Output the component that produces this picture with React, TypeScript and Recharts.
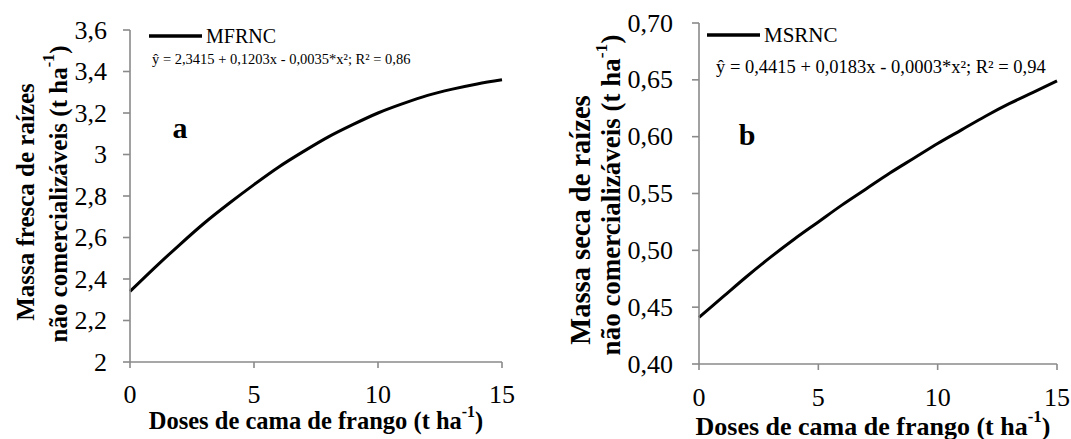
import React from "react";
import { LineChart, Line, XAxis, YAxis } from "recharts";

const doses = [0, 1, 2, 3, 4, 5, 6, 7, 8, 9, 10, 11, 12, 13, 14, 15];
const mfrnc = [2.34, 2.455, 2.565, 2.67, 2.765, 2.855, 2.94, 3.015, 3.085, 3.145, 3.2, 3.245, 3.285, 3.315, 3.34, 3.36];
const msrnc = [0.441, 0.459, 0.477, 0.494, 0.51, 0.525, 0.54, 0.554, 0.568, 0.581, 0.594, 0.606, 0.618, 0.629, 0.639, 0.649];
const xTicks = [0, 5, 10, 15];
const leftTicks = [2, 2.2, 2.4, 2.6, 2.8, 3, 3.2, 3.4, 3.6];
const rightTicks = [0.4, 0.45, 0.5, 0.55, 0.6, 0.65, 0.7];

const leftData = doses.map((d, i) => ({ dose: d, v: mfrnc[i] }));
const rightData = doses.map((d, i) => ({ dose: d, v: msrnc[i] }));

const FONT = "Liberation Serif";
const AXIS = "#8a8a8a";

const fmtLeft = (v: number) => (Number.isInteger(v) ? String(v) : v.toFixed(1).replace(".", ","));
const fmtRight = (v: number) => v.toFixed(2).replace(".", ",");

function makeTick(fmt: (v: number) => string, axis: "x" | "y") {
  return (props: any) => {
    const { x, y, payload } = props;
    return (
      <text
        x={x}
        y={y}
        fontFamily={FONT}
        style={{ fontFamily: FONT, fontSize: 26 }}
        fontSize={26}
        fill="#000"
        textAnchor={axis === "y" ? "end" : "middle"}
        dominantBaseline="central"
        dy={axis === "x" ? 8 : 0}
      >
        {fmt(payload.value)}
      </text>
    );
  };
}

function Sup({ size }: { size: number }) {
  return (
    <>
      <tspan dy={-size * 0.38} fontSize={size * 0.65}>-1</tspan>
      <tspan dy={size * 0.38}>)</tspan>
    </>
  );
}

const axisLine = { stroke: AXIS, strokeWidth: 1.6 };

function T(props: any) {
  return <text fontFamily={FONT} style={{ fontFamily: FONT }} {...props} />;
}

export default function App() {
  return (
    <div style={{ position: "absolute", left: 0, top: 0, width: 1071, height: 439, background: "#fff", fontFamily: FONT }}>
      <div style={{ position: "absolute", left: 0, top: 0 }}>
        <LineChart width={530} height={439} data={leftData} margin={{ top: 30, right: 28, bottom: 37, left: 0 }}>
          <XAxis
            dataKey="dose"
            type="number"
            domain={[0, 15]}
            ticks={xTicks}
            height={40}
            tickSize={6}
            tickMargin={18}
            tick={makeTick(String, "x")}
            axisLine={axisLine}
            tickLine={axisLine}
          />
          <YAxis
            type="number"
            domain={[2, 3.6]}
            ticks={leftTicks}
            width={130}
            tickSize={7}
            tickMargin={16}
            tick={makeTick(fmtLeft, "y")}
            axisLine={axisLine}
            tickLine={axisLine}
          />
          <Line type="monotone" dataKey="v" stroke="#000" strokeWidth={3} dot={false} isAnimationActive={false} />
        </LineChart>
      </div>
      <div style={{ position: "absolute", left: 530, top: 0 }}>
        <LineChart width={541} height={439} data={rightData} margin={{ top: 23, right: 14, bottom: 35, left: 0 }}>
          <XAxis
            dataKey="dose"
            type="number"
            domain={[0, 15]}
            ticks={xTicks}
            height={40}
            tickSize={6}
            tickMargin={19}
            tick={makeTick(String, "x")}
            axisLine={axisLine}
            tickLine={axisLine}
          />
          <YAxis
            type="number"
            domain={[0.4, 0.7]}
            ticks={rightTicks}
            width={169}
            tickSize={7}
            tickMargin={19}
            tick={makeTick(fmtRight, "y")}
            axisLine={axisLine}
            tickLine={axisLine}
          />
          <Line type="monotone" dataKey="v" stroke="#000" strokeWidth={3} dot={false} isAnimationActive={false} />
        </LineChart>
      </div>
      <svg width={1071} height={439} style={{ position: "absolute", left: 0, top: 0, pointerEvents: "none" }}>
        {/* Left chart texts */}
        <line x1={149} y1={36} x2={202} y2={36} stroke="#000" strokeWidth={3.5} />
        <T x={206} y={36} fontSize={20} dominantBaseline="central">MFRNC</T>
        <T x={152} y={59} fontSize={14.5} dominantBaseline="central">ŷ = 2,3415 + 0,1203x - 0,0035*x²; R² = 0,86</T>
        <T x={180} y={127} fontSize={30} fontWeight="bold" textAnchor="middle" dominantBaseline="central">a</T>
        <T transform="translate(25,202) rotate(-90)" fontSize={25} fontWeight="bold" textAnchor="middle" dominantBaseline="central">
          Massa fresca de raízes
        </T>
        <T transform="translate(58,194) rotate(-90)" fontSize={25} fontWeight="bold" textAnchor="middle" dominantBaseline="central">
          não comercializáveis (t ha<Sup size={25} />
        </T>
        <T x={316} y={420} fontSize={24.5} fontWeight="bold" textAnchor="middle" dominantBaseline="central">
          Doses de cama de frango (t ha<Sup size={24.5} />
        </T>

        {/* Right chart texts */}
        <line x1={707} y1={35} x2={760} y2={35} stroke="#000" strokeWidth={3.5} />
        <T x={764} y={35} fontSize={21} dominantBaseline="central">MSRNC</T>
        <T x={716} y={67} fontSize={18.5} dominantBaseline="central">ŷ = 0,4415 + 0,0183x - 0,0003*x²; R² = 0,94</T>
        <T x={747} y={134} fontSize={30} fontWeight="bold" textAnchor="middle" dominantBaseline="central">b</T>
        <T transform="translate(580,220) rotate(-90)" fontSize={28.5} fontWeight="bold" textAnchor="middle" dominantBaseline="central">
          Massa seca de raízes
        </T>
        <T transform="translate(611,195) rotate(-90)" fontSize={27} fontWeight="bold" textAnchor="middle" dominantBaseline="central">
          não comercializáveis (t ha<Sup size={27} />
        </T>
        <T x={873} y={426} fontSize={26} fontWeight="bold" textAnchor="middle" dominantBaseline="central">
          Doses de cama de frango (t ha<Sup size={26} />
        </T>
      </svg>
    </div>
  );
}
